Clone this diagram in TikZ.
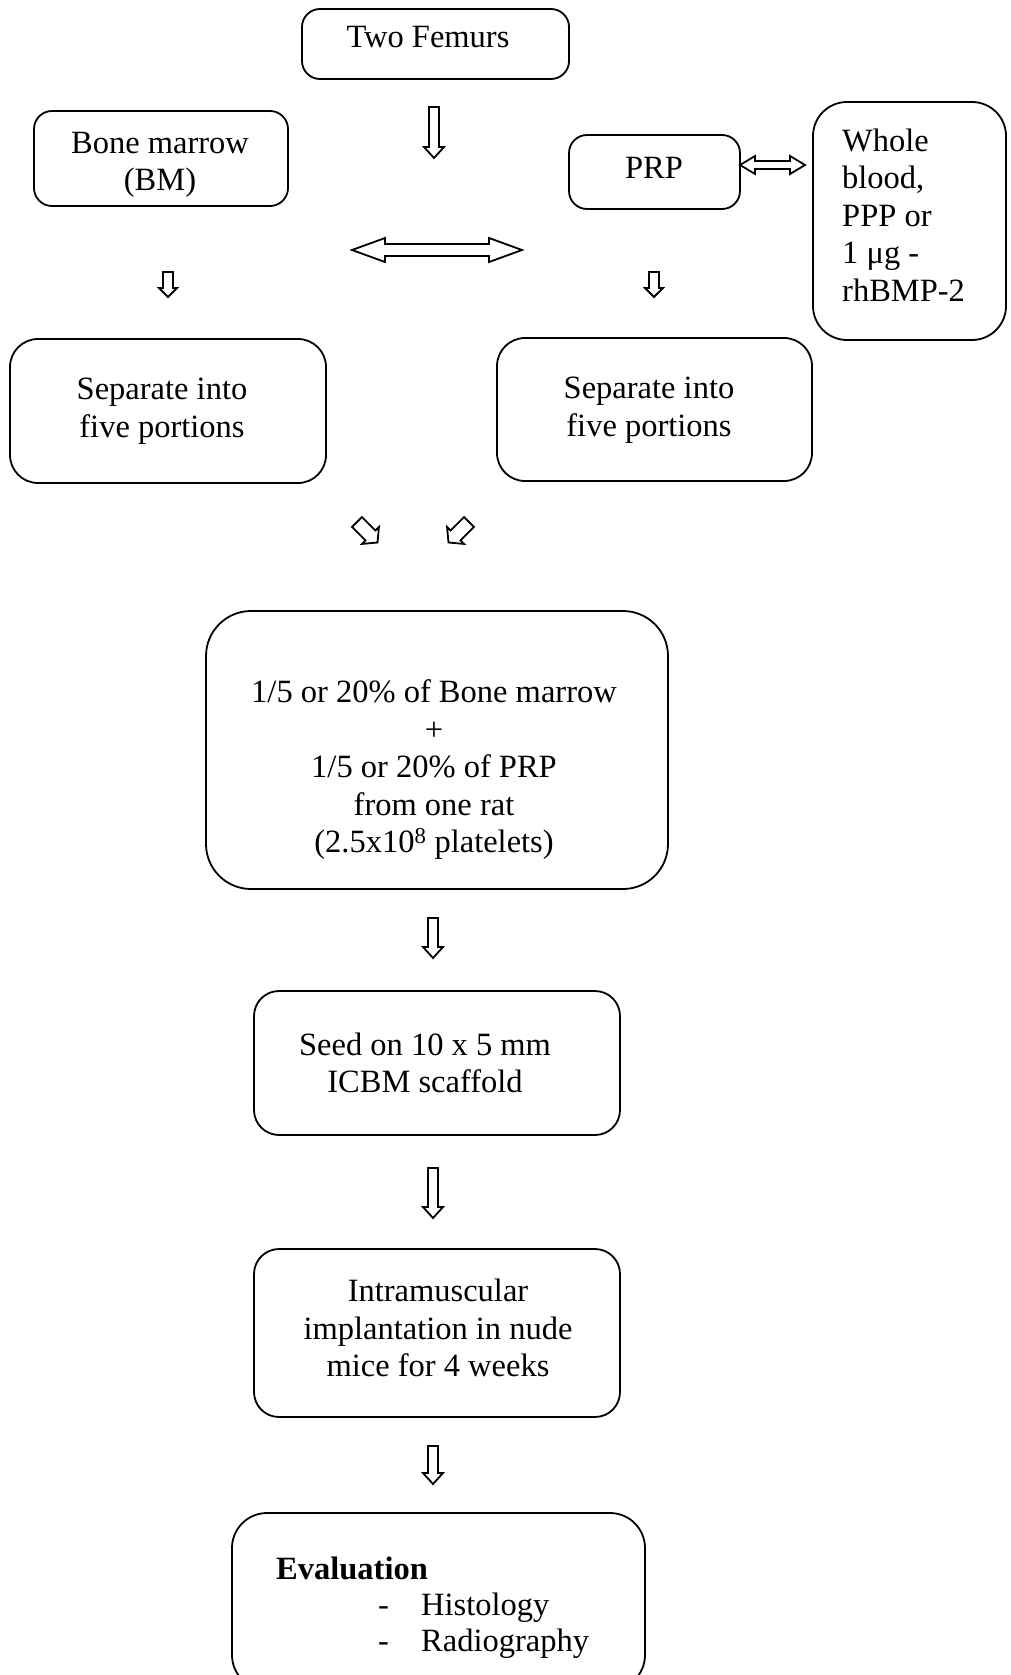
\documentclass[tikz,border=0pt]{standalone}
\usepackage{fontspec}
\setmainfont{Liberation Serif}
\begin{document}
\begin{tikzpicture}[x=1pt,y=-1pt,
  box/.style={draw, line width=1.8pt, rounded corners=#1, inner sep=0pt},
  box/.default=18pt,
  txt/.style={inner sep=0pt, font=\fontsize{32.5}{37.5}\selectfont, align=center},
  arr/.style={draw, line width=1.8pt, line join=miter, fill=white},
  pics/barrow/.style n args={4}{code={
    \draw[arr] (0,-#2) -- ({#1-#4},-#2) -- ({#1-#4},-#3) -- (#1,0) -- ({#1-#4},#3) -- ({#1-#4},#2) -- (0,#2) -- cycle;}},
  pics/dbarrow/.style n args={4}{code={
    \draw[arr] (0,0) -- (#4,-#3) -- (#4,-#2) -- ({#1-#4},-#2) -- ({#1-#4},-#3) -- (#1,0) -- ({#1-#4},#3) -- ({#1-#4},#2) -- (#4,#2) -- (#4,#3) -- cycle;}}
]
\useasboundingbox (0,0) rectangle (1010,1675);
\fill[white] (0,0) rectangle (1010,1675);

% boxes
\node[box, minimum width=267pt, minimum height=70pt] (femurs) at (435.5,44) {};
\node[box, minimum width=254pt, minimum height=95pt] (bm) at (161,158.5) {};
\node[box, minimum width=171pt, minimum height=74pt] (prp) at (654.5,172) {};
\node[box=34pt, minimum width=193pt, minimum height=238pt] (whole) at (909.5,221) {};
\node[box=28pt, minimum width=316pt, minimum height=144pt] (sepL) at (168,411) {};
\node[box=28pt, minimum width=315pt, minimum height=143pt] (sepR) at (654.5,409.5) {};
\node[box=45pt, minimum width=462pt, minimum height=278pt] (big) at (437,750) {};
\node[box=25pt, minimum width=366pt, minimum height=144pt] (seed) at (437,1063) {};
\node[box=25pt, minimum width=366pt, minimum height=168pt] (intra) at (437,1333) {};
\node[box=35pt, minimum width=413pt, minimum height=177pt] (eval) at (438.5,1601.5) {};

% texts
\node[txt] (tfemurs) at (428,37) {Two Femurs};
\node[txt] (tbm) at (160,165) {Bone marrow\\(BM)};
\node[txt] (tprp) at (654,168) {PRP};
\node[txt, align=left, anchor=west] (twhole) at (842,215) {Whole\\blood,\\PPP or\\1 μg -\\rhBMP-2};
\node[txt] (tsepL) at (162,411) {Separate into\\five portions};
\node[txt] (tsepR) at (649,410) {Separate into\\five portions};
\node[txt] (tbig) at (434,770) {1/5 or 20\% of Bone marrow\\+\\1/5 or 20\% of PRP\\from one rat\\(2.5x10\textsuperscript{8} platelets)};
\node[txt] (tseed) at (425,1063) {Seed on 10 x 5 mm\\ICBM scaffold};
\node[txt] (tintra) at (438,1328) {Intramuscular\\implantation in nude\\mice for 4 weeks};
\node[txt, anchor=base west, font=\fontsize{32.5}{37.5}\selectfont\bfseries] (tevtitle) at (276,1579) {Evaluation};
\node[txt, anchor=base west] (tdash1) at (378,1615) {-};
\node[txt, anchor=base west] (thist) at (421,1615) {Histology};
\node[txt, anchor=base west] (tdash2) at (378,1651) {-};
\node[txt, anchor=base west] (trad) at (421,1651) {Radiography};

% block arrows
\pic[rotate=-90] (a1) at (434,107) {barrow={51}{5}{10}{11}};
\pic[rotate=-90] (a2) at (168,272) {barrow={25}{5}{9}{9}};
\pic[rotate=-90] (a3) at (654,272) {barrow={25}{5}{9}{9}};
\pic (a4) at (352,250) {dbarrow={170}{6}{12}{33}};
\pic (a5) at (740,165) {dbarrow={65}{4}{9}{15}};
\pic[rotate=-45] (a6) at (357,522) {barrow={29}{7}{12}{10}};
\pic[rotate=-135] (a7) at (469,522) {barrow={29}{7}{12}{10}};
\pic[rotate=-90] (a8) at (433,918) {barrow={40}{5}{10}{11}};
\pic[rotate=-90] (a9) at (433,1168) {barrow={50}{5}{10}{11}};
\pic[rotate=-90] (a10) at (433,1446) {barrow={38}{5}{10}{11}};
\end{tikzpicture}
\end{document}
